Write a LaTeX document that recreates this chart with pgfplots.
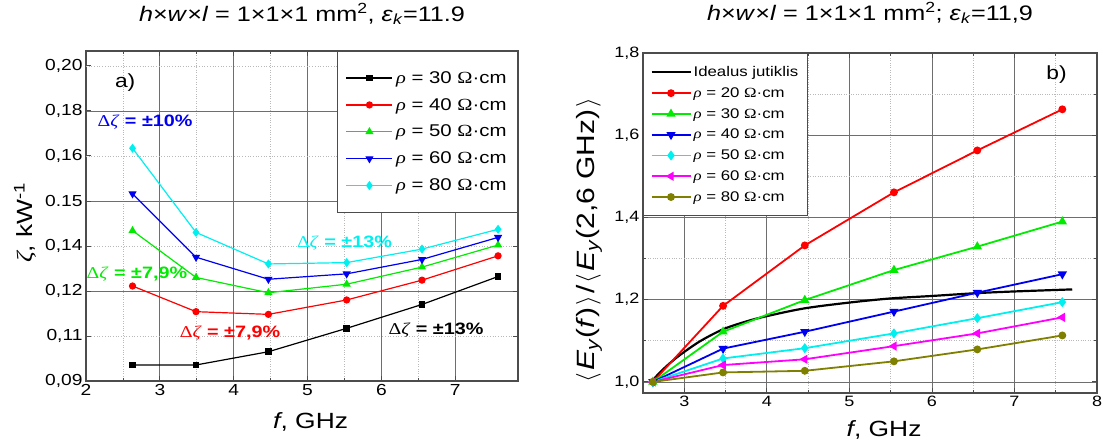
\documentclass[border=0pt]{standalone}
\usepackage{fontspec}
\setmainfont{Liberation Sans}[FakeStretch=1.2]
\newfontfamily\grk{Liberation Serif}[FakeStretch=1.2]
\usepackage{pgfplots}
\pgfplotsset{compat=1.18}
\definecolor{cgreen}{RGB}{0,235,0}
\definecolor{ccyan}{RGB}{0,240,240}
\definecolor{cblue}{RGB}{0,0,240}
\definecolor{cred}{RGB}{255,0,0}
\definecolor{cmag}{RGB}{255,0,255}
\definecolor{colive}{RGB}{128,128,0}
\definecolor{gridgray}{RGB}{110,110,110}
\newcommand\fs[1]{\fontsize{#1bp}{#1bp}\selectfont}
\newcommand\rh{{\grk\itshape ρ}}
\newcommand\Om{{\grk Ω}}
\newcommand\dz{{\grk Δ\textit{ζ}}}
\pgfplotsset{
  every axis/.append style={
    scale only axis,
    axis line style={draw=gray!60!black, line width=1.3bp},
    tick style={draw=gray!60!black, line width=0.8bp},
    major tick length=5bp, minor tick length=3bp,
    /pgf/number format/assume math mode=true,
    grid=both,
    major grid style={draw=gridgray, line width=0.7bp},
    minor grid style={draw=gray!55, dotted, line width=0.7bp},
    label style={font=\fs{22}},
    title style={font=\fs{21}},
    legend cell align=left,
  },
}
\begin{document}
\begin{tikzpicture}
\useasboundingbox (0,0) rectangle (1107bp,443bp);
% ---------------- left
\begin{axis}[
  at={(86bp,62bp)}, anchor=south west,
  width=432bp, height=330bp,
  xmin=2, xmax=7.85, ymin=0, ymax=7.33,
  tick label style={font=\fs{16}},
  xtick={2,3,4,5,6,7}, minor x tick num=1,
  ytick={0,2,4,6}, yticklabels={{0,09},{0,12},{0.15},{0,18}},
  extra y ticks={1,3,5,7},
  extra y tick labels={{0,11},{0,14},{0,16},{0,20}},
  extra y tick style={major grid style={draw=gray!55, dotted, line width=0.7bp}},
  title={\textit{h}×\textit{w}×\textit{l} = 1×1×1 mm\textsuperscript{2}, \textit{ε}\textsubscript{\textit{k}}=11.9},
  title style={at={(0.5,1)}, anchor=base, yshift=24bp},
  xlabel={\textit{f}, GHz},
  ylabel={{\grk\itshape ζ}, kW\textsuperscript{-1}},
  xlabel style={at={(axis description cs:0.52,-0.124)}, anchor=center},
  ylabel style={at={(axis description cs:-0.141,0.48)}, anchor=center, rotate=0},
  legend style={at={(1,1)}, anchor=north east, font=\fs{17}, draw=gray!60!black, line width=0.8bp, fill=white, inner xsep=8bp, inner ysep=18bp, row sep=9.5bp, nodes={inner ysep=2bp, inner xsep=3bp}},
  legend image code/.code={\draw[mark repeat=2,mark phase=2] plot coordinates {(0bp,0bp) (23bp,0bp) (46bp,0bp)};},
  every axis plot/.append style={line width=1.2bp, mark size=3bp},
]
\addplot[black, mark=square*, mark size=2.8bp] coordinates {(2.63,0.356) (3.49,0.356) (4.47,0.65) (5.53,1.17) (6.55,1.70) (7.58,2.32)};
\addlegendentry{\rh{} = 30 \Om·cm}
\addplot[cred, mark=*] coordinates {(2.63,2.11) (3.49,1.54) (4.47,1.48) (5.53,1.80) (6.55,2.24) (7.58,2.78)};
\addlegendentry{\rh{} = 40 \Om·cm}
\addplot[cgreen, mark=triangle*, mark size=3.6bp] coordinates {(2.63,3.34) (3.49,2.30) (4.47,1.96) (5.53,2.15) (6.55,2.53) (7.58,3.02)};
\addlegendentry{\rh{} = 50 \Om·cm}
\addplot[cblue, mark=triangle*, mark size=3.6bp, mark options={rotate=180}] coordinates {(2.63,4.16) (3.49,2.75) (4.47,2.26) (5.53,2.38) (6.55,2.70) (7.58,3.19)};
\addlegendentry{\rh{} = 60 \Om·cm}
\addplot[ccyan, mark=diamond*, mark size=3.6bp] coordinates {(2.63,5.17) (3.49,3.30) (4.47,2.60) (5.53,2.63) (6.55,2.93) (7.58,3.37)};
\addlegendentry{\rh{} = 80 \Om·cm}
\node[font=\fs{19}] at (axis cs:2.53,6.62) {a)};
\node[font=\fs{16.5}, text=cblue] at (axis cs:2.80,5.76) {\dz\textbf{ = ±10\%}};
\node[font=\fs{16.5}, text=cgreen] at (axis cs:2.69,2.38) {\dz\textbf{ = ±7,9\%}};
\node[font=\fs{16.5}, text=cred] at (axis cs:3.95,1.07) {\dz\textbf{ = ±7,9\%}};
\node[font=\fs{16.5}, text=black] at (axis cs:6.74,1.13) {\dz\textbf{ = ±13\%}};
\node[font=\fs{16.5}, text=ccyan] at (axis cs:5.50,3.07) {\dz\textbf{ = ±13\%}};
\end{axis}
% ---------------- right
\begin{axis}[
  at={(643bp,50bp)}, anchor=south west,
  width=454bp, height=340bp,
  xmin=2.5, xmax=8, ymin=0.973, ymax=1.8,
  tick label style={font=\fs{15}},
  xtick={3,4,5,6,7,8}, minor x tick num=1,
  ytick={1.0,1.2,1.4,1.6,1.8}, minor y tick num=1,
  yticklabel style={/pgf/number format/.cd, use comma, fixed, fixed zerofill, precision=1},
  title={\textit{h}×\textit{w}×\textit{l} = 1×1×1 mm\textsuperscript{2}; \textit{ε}\textsubscript{\textit{k}}=11,9},
  title style={at={(0.5,1)}, anchor=base, yshift=27bp},
  xlabel={\textit{f}, GHz},
  ylabel={\fs{25}$\langle$\hspace{2bp}\textit{E}\textsubscript{\textit{y}}(\textit{f})\hspace{2bp}$\rangle$\hspace{2bp}/\hspace{2bp}$\langle$\hspace{2bp}\textit{E}\textsubscript{\textit{y}}(2,6 GHz)\hspace{2bp}$\rangle$},
  xlabel style={at={(axis description cs:0.531,-0.11)}, anchor=center},
  ylabel style={at={(axis description cs:-0.119,0.45)}, anchor=center, rotate=0},
  legend style={at={(0,1)}, anchor=north west, font=\fs{14}, draw=gray!60!black, line width=0.8bp, fill=white, inner xsep=7bp, inner ysep=12bp, row sep=7.5bp, nodes={inner ysep=1bp, inner xsep=2bp}},
  legend image code/.code={\draw[mark repeat=2,mark phase=2] plot coordinates {(0bp,0bp) (19.5bp,0bp) (39bp,0bp)};},
  every axis plot/.append style={line width=1.8bp, mark size=3bp},
]
\addplot[black, smooth, line width=2.2bp] coordinates {(2.6,1.0) (2.7,1.022) (2.8,1.041) (2.9,1.058) (3.0,1.073) (3.2,1.100) (3.47,1.128) (3.75,1.147) (4.0,1.160) (4.46,1.179) (5.0,1.193) (5.5,1.203) (6.0,1.209) (6.55,1.216) (7.0,1.220) (7.7,1.225)};
\addlegendentry{Idealus jutiklis}
\addplot[cred, mark=*] coordinates {(2.62,1.0) (3.47,1.185) (4.46,1.332) (5.54,1.461) (6.55,1.563) (7.58,1.663)};
\addlegendentry{\rh{} = 20 \Om·cm}
\addplot[cgreen, mark=triangle*, mark size=3.6bp] coordinates {(2.62,1.0) (3.47,1.122) (4.46,1.199) (5.54,1.272) (6.55,1.329) (7.58,1.390)};
\addlegendentry{\rh{} = 30 \Om·cm}
\addplot[cblue, mark=triangle*, mark size=3.6bp, mark options={rotate=180}] coordinates {(2.62,1.0) (3.47,1.081) (4.46,1.122) (5.54,1.171) (6.55,1.217) (7.58,1.262)};
\addlegendentry{\rh{} = 40 \Om·cm}
\addplot[ccyan, mark=diamond*, mark size=3.6bp] coordinates {(2.62,1.0) (3.47,1.057) (4.46,1.082) (5.54,1.118) (6.55,1.155) (7.58,1.194)};
\addlegendentry{\rh{} = 50 \Om·cm}
\addplot[cmag, mark=triangle*, mark size=3.6bp, mark options={rotate=90}] coordinates {(2.62,1.0) (3.47,1.041) (4.46,1.055) (5.54,1.087) (6.55,1.118) (7.58,1.157)};
\addlegendentry{\rh{} = 60 \Om·cm}
\addplot[colive, mark=*] coordinates {(2.62,1.0) (3.47,1.023) (4.46,1.027) (5.54,1.050) (6.55,1.079) (7.58,1.113)};
\addlegendentry{\rh{} = 80 \Om·cm}
\node[font=\fs{19}] at (axis cs:7.51,1.748) {b)};
\end{axis}
\end{tikzpicture}
\end{document}
